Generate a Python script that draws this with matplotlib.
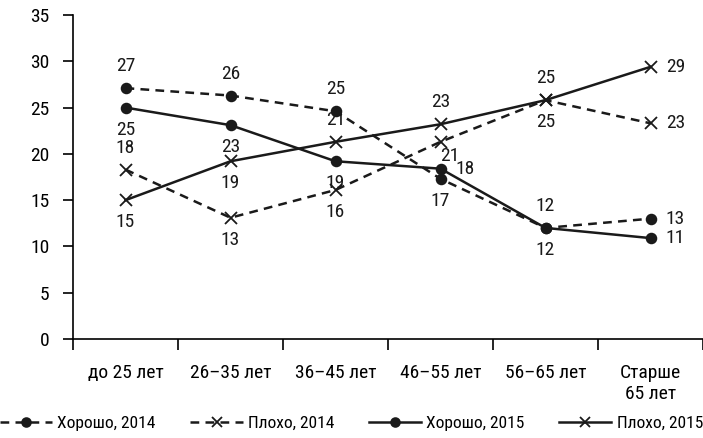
import matplotlib
matplotlib.use("Agg")
import matplotlib.pyplot as plt

plt.rcParams['font.family'] = ['Liberation Sans Narrow', 'Roboto Condensed', 'Roboto', 'DejaVu Sans']

categories = ['до 25 лет', '26–35 лет', '36–45 лет', '46–55 лет', '56–65 лет', 'Старше\n65 лет']

good_2014 = [27.1, 26.3, 24.6, 17.3, 12.0, 13.0]
bad_2014 = [18.3, 13.1, 16.1, 21.3, 25.8, 23.3]
good_2015 = [25.0, 23.1, 19.2, 18.4, 12.0, 10.9]
bad_2015 = [15.0, 19.2, 21.3, 23.2, 25.8, 29.4]

good_2014_labels = [27, 26, 25, 17, 12, 13]
bad_2014_labels = [18, 13, 16, 21, 25, 23]
good_2015_labels = [25, 23, 19, 18, 12, 11]
bad_2015_labels = [15, 19, 21, 23, 25, 29]

# where each value label sits: a = above, b = below, r = right
good_2014_pos = ['a', 'a', 'a', 'b', 'a', 'r']
bad_2014_pos = ['a', 'b', 'b', 'br', 'b', 'r']
good_2015_pos = ['b', 'b', 'b', 'r', 'b', 'r']
bad_2015_pos = ['b', 'b', 'a', 'a', 'a', 'r']

offsets = {'a': (0, 22), 'b': (0, -22), 'r': (25, 0), 'br': (9, -14)}

fig = plt.figure(figsize=(7.03, 4.38), dpi=100)
ax = fig.add_axes([73 / 703, 99 / 438, 630 / 703, 324 / 438])

x = list(range(len(categories)))
lw = 1.8
dash = (0, (3.5, 2.5))

series = [
    (good_2014, good_2014_labels, good_2014_pos, dash, 'o', 'Хорошо, 2014'),
    (bad_2014, bad_2014_labels, bad_2014_pos, dash, 'x', 'Плохо, 2014'),
    (good_2015, good_2015_labels, good_2015_pos, '-', 'o', 'Хорошо, 2015'),
    (bad_2015, bad_2015_labels, bad_2015_pos, '-', 'x', 'Плохо, 2015'),
]

for vals, labs, pos, ls, mk, name in series:
    ax.plot(x, vals, color='#1a1a1a', linestyle=ls, linewidth=lw, marker=mk,
            markersize=7 if mk == 'o' else 8, markeredgewidth=1.3,
            label=name)
    for xi, v, lab, p in zip(x, vals, labs, pos):
        dx, dy = offsets[p]
        ax.annotate(str(lab), (xi, v), xytext=(dx, dy), textcoords='offset pixels',
                    ha='center', va='center', fontsize=14, color='#1a1a1a')

ax.set_xlim(-0.5, len(categories) - 0.5)
ax.set_ylim(0, 35)
ax.set_yticks(range(0, 36, 5))
ax.set_xticks([i + 0.5 for i in range(-1, len(categories))])
ax.set_xticklabels([])
ax.set_xticks(x, minor=True)
ax.set_xticklabels(categories, minor=True, fontsize=14)
ax.tick_params(axis='x', which='minor', length=0, pad=18)
ax.tick_params(axis='x', which='major', length=8, width=1.2, direction='out')
ax.tick_params(axis='y', length=7, width=1.2, labelsize=14, pad=10)

for s in ['top', 'right']:
    ax.spines[s].set_visible(False)
for s in ['left', 'bottom']:
    ax.spines[s].set_linewidth(1.2)

fig.legend(loc='lower center', bbox_to_anchor=(0.5, 0.0), ncol=4, frameon=False,
           fontsize=12.5, handlelength=3.0, columnspacing=2.0, handletextpad=0.3,
           borderpad=0.2, borderaxespad=0.2, markerscale=0.9)

fig.savefig('out.png', dpi=100)
